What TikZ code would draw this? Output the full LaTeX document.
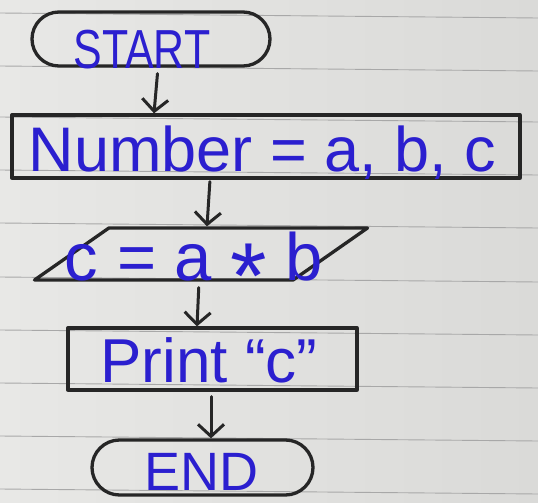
\documentclass[tikz,border=0pt]{standalone}
\usepackage{fontspec}
\setmainfont{Liberation Sans}
\usetikzlibrary{shapes.misc,shapes.geometric,arrows.meta}

\definecolor{paperlight}{HTML}{E8E8E6}
\definecolor{paperdark}{HTML}{DADAD8}
\definecolor{rule}{HTML}{A8A8A8}
\definecolor{ink}{HTML}{2B1FCF}
\definecolor{pencil}{HTML}{262626}

% text placed inside a box, shifted right by #1 and with its baseline at #2 from the centre
\newcommand{\inktext}[3]{\smash{\makebox[0pt]{\hspace*{#1}\raisebox{#2}{#3}\hspace*{-#1}}}}

\tikzset{
  box/.style={draw=pencil, line width=3.3pt, line join=round, text=ink, inner sep=0pt},
  terminal/.style={box, rounded rectangle},
  procbox/.style={box, rectangle},
  iobox/.style={box, trapezium, trapezium left angle=68, trapezium right angle=112,
                trapezium stretches=true},
  arr/.style={draw=pencil, line width=3pt, line cap=round,
              -{Straight Barb[length=12pt,width=26pt]}},
  ruling/.style={draw=rule, line width=0.9pt},
}

\begin{document}
\begin{tikzpicture}[x=1pt,y=-1pt]
  % notebook page
  \useasboundingbox (0,0) rectangle (538,503);
  \shade[left color=paperlight, right color=paperdark] (0,0) rectangle (538,503);
  \foreach \ry in {13,66,117,170,223,277,330,383,436,489}
    \draw[ruling] (0,\ry) -- (538,\ry+5);

  % flowchart boxes
  \node[terminal, minimum width=238pt, minimum height=54pt] (start) at (151,39)
    {\inktext{-9pt}{-30pt}{\fontsize{55}{55}\selectfont\scalebox{0.78}[1]{START}}};
  \node[procbox, minimum width=508pt, minimum height=63pt] (num) at (266,146.5)
    {\inktext{-3.5pt}{-24.5pt}{\fontsize{63}{63}\selectfont Number = a, b, c}};
  \node[iobox, minimum width=333pt, minimum height=52pt] (calc) at (201,254)
    {\inktext{-6pt}{-26pt}{\fontsize{67}{67}\selectfont c = a \raisebox{-0.42em}{\scalebox{1.4}{*}} b}%
     \phantom{\rule[-1pt]{2pt}{2pt}}};
  \node[procbox, minimum width=289pt, minimum height=62pt] (prt) at (212.5,359)
    {\inktext{-3.5pt}{-23pt}{\fontsize{62}{62}\selectfont Print “c”}};
  \node[terminal, minimum width=221pt, minimum height=55pt] (stop) at (202.5,467.5)
    {\inktext{-1pt}{-22.5pt}{\fontsize{54}{54}\selectfont END}};

  % flow arrows
  \draw[arr, shorten <=6pt] ([xshift=7pt]start.south) -- ([xshift=-112pt]num.north);
  \draw[arr, shorten <=2pt] ([xshift=-56pt]num.south) -- ([xshift=6pt]calc.north);
  \draw[arr, shorten <=6pt] ([xshift=-2pt]calc.south) -- ([xshift=-15.5pt]prt.north);
  \draw[arr, shorten <=5pt] ([xshift=-1.5pt]prt.south) -- ([xshift=8.5pt]stop.north);
\end{tikzpicture}
\end{document}
